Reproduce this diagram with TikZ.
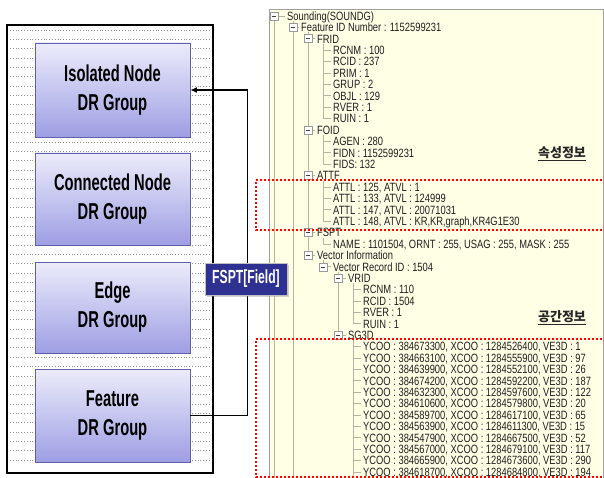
\documentclass[tikz,border=0pt]{standalone}
\usepackage{fontspec}
\setmainfont{Liberation Sans}
\newfontfamily\condf[FakeStretch=0.64]{Liberation Sans}
\newfontfamily\treef[FakeStretch=0.78]{Liberation Sans}
\newfontfamily\krf{Noto Sans CJK KR}
\usetikzlibrary{arrows.meta,shadows}
\definecolor{panelyellow}{HTML}{FFFFE6}
\definecolor{treeline}{HTML}{B4B4A0}
\definecolor{boxtop}{HTML}{ECECFB}
\definecolor{boxbot}{HTML}{9E9EE4}
\definecolor{boxedge}{HTML}{6060A8}
\definecolor{fsptblue}{HTML}{2E3192}
\definecolor{panelframe}{HTML}{A0A0A0}
\definecolor{dumpgray}{HTML}{8E8E8E}
\newcommand\ry[1]{16+11.4*#1}
\newcommand\trow[3]{\node[treetext] (t#1) at ({#2},{\ry{#1}}) {#3};}
\newcommand\xbox[2]{\node[expander] (x#1) at ({#2},{\ry{#1}}) {};}
\begin{document}
\begin{tikzpicture}[x=1pt,y=-1pt,
  treetext/.style={anchor=west,inner sep=0pt,text height=8.6pt,text depth=0pt,
    font=\treef\fontsize{12}{12}\selectfont,text=black!88},
  expander/.style={rectangle,minimum size=8pt,inner sep=0pt,draw=black!40,fill=white,line width=0.6pt,
    path picture={\draw[black!75,line width=0.6pt]
      ([xshift=1.8pt]path picture bounding box.west) -- ([xshift=-1.8pt]path picture bounding box.east);}},
  tline/.style={draw=treeline,line width=0.8pt},
  reddots/.style={draw=red,line width=1.8pt,dash pattern=on 1.8pt off 2.2pt},
  dumprow/.style={draw=dumpgray,line width=0.9pt,dash pattern=on 1pt off 1.8pt},
  drbox/.style={rectangle,draw=boxedge,line width=0.8pt,top color=boxtop,bottom color=boxbot,
    align=center,inner sep=0pt,minimum width=155pt,
    font=\condf\bfseries\fontsize{23}{29}\selectfont},
  fsptlabel/.style={rectangle,fill=fsptblue,draw=black!25,line width=1pt,minimum width=82pt,minimum height=32pt,
    inner sep=0pt,text=white,font=\condf\bfseries\fontsize{19}{19}\selectfont,
    drop shadow={shadow xshift=1.5pt,shadow yshift=-1.5pt,opacity=0.35}},
  krlabel/.style={inner sep=0pt,font=\krf\bfseries\fontsize{13}{13}\selectfont,text=black!85},
  arrowline/.style={draw=black,line width=1.8pt,-{Latex[length=6.5pt,width=6pt]}}
]
\useasboundingbox (0,0) rectangle (604,478);
\clip (0,0) rectangle (604,478);
\fill[white] (0,0) rectangle (604,478);

% ---------- right panel ----------
\filldraw[fill=panelyellow,draw=panelframe,line width=1pt] (269,10) rectangle (603,490);

% tree lines
\draw[tline] (274,{\ry{0}}) -- (274,490);
\draw[tline] (274,{\ry{0}}) -- (285,{\ry{0}});
\draw[tline] (293,{\ry{0}+5}) -- (293,490);
\draw[tline] (293,{\ry{1}}) -- (299,{\ry{1}});
\draw[tline] (308,{\ry{1}+5}) -- (308,{\ry{21}});
\foreach \k in {2,10,14,19,21} {\draw[tline] (308,{\ry{\k}}) -- (315,{\ry{\k}});}
\draw[tline] (323,{\ry{2}+5}) -- (323,{\ry{9}});
\draw[tline] (323,{\ry{10}+5}) -- (323,{\ry{13}});
\draw[tline] (323,{\ry{14}+5}) -- (323,{\ry{18}});
\draw[tline] (323,{\ry{19}+5}) -- (323,{\ry{20}});
\draw[tline] (323,{\ry{21}+5}) -- (323,{\ry{22}});
\foreach \k in {3,...,9,11,12,13,15,16,17,18,20,22} {\draw[tline] (323,{\ry{\k}}) -- (331,{\ry{\k}});}
\draw[tline] (338,{\ry{22}+5}) -- (338,{\ry{28}});
\foreach \k in {23,28} {\draw[tline] (338,{\ry{\k}}) -- (346,{\ry{\k}});}
\draw[tline] (353,{\ry{23}+5}) -- (353,{\ry{27}});
\draw[tline] (353,{\ry{28}+5}) -- (353,490);
\foreach \k in {24,...,27,29,30,...,40} {\draw[tline] (353,{\ry{\k}}) -- (361,{\ry{\k}});}

% expanders
\xbox{0}{274}
\xbox{1}{293}
\xbox{2}{308}
\xbox{10}{308}
\xbox{14}{308}
\xbox{19}{308}
\xbox{21}{308}
\xbox{22}{323}
\xbox{23}{338}
\xbox{28}{338}

% tree texts
\trow{0}{287}{Sounding(SOUNDG)}
\trow{1}{301}{Feature ID Number : 1152599231}
\trow{2}{317}{FRID}
\trow{3}{333}{RCNM : 100}
\trow{4}{333}{RCID : 237}
\trow{5}{333}{PRIM : 1}
\trow{6}{333}{GRUP : 2}
\trow{7}{333}{OBJL : 129}
\trow{8}{333}{RVER : 1}
\trow{9}{333}{RUIN : 1}
\trow{10}{317}{FOID}
\trow{11}{333}{AGEN : 280}
\trow{12}{333}{FIDN : 1152599231}
\trow{13}{333}{FIDS: 132}
\trow{14}{317}{ATTF}
\trow{15}{333}{ATTL : 125, ATVL : 1}
\trow{16}{333}{ATTL : 133, ATVL : 124999}
\trow{17}{333}{ATTL : 147, ATVL : 20071031}
\trow{18}{333}{ATTL : 148, ATVL : KR,KR,graph,KR4G1E30}
\trow{19}{317}{FSPT}
\trow{20}{333}{NAME : 1101504, ORNT : 255, USAG : 255, MASK : 255}
\trow{21}{317}{Vector Information}
\trow{22}{333}{Vector Record ID : 1504}
\trow{23}{348}{VRID}
\trow{24}{363}{RCNM : 110}
\trow{25}{363}{RCID : 1504}
\trow{26}{363}{RVER : 1}
\trow{27}{363}{RUIN : 1}
\trow{28}{348}{SG3D}
\trow{29}{363}{YCOO : 384673300, XCOO : 1284526400, VE3D : 1}
\trow{30}{363}{YCOO : 384663100, XCOO : 1284555900, VE3D : 97}
\trow{31}{363}{YCOO : 384639900, XCOO : 1284552100, VE3D : 26}
\trow{32}{363}{YCOO : 384674200, XCOO : 1284592200, VE3D : 187}
\trow{33}{363}{YCOO : 384632300, XCOO : 1284597600, VE3D : 122}
\trow{34}{363}{YCOO : 384610600, XCOO : 1284579800, VE3D : 20}
\trow{35}{363}{YCOO : 384589700, XCOO : 1284617100, VE3D : 65}
\trow{36}{363}{YCOO : 384563900, XCOO : 1284611300, VE3D : 15}
\trow{37}{363}{YCOO : 384547900, XCOO : 1284667500, VE3D : 52}
\trow{38}{363}{YCOO : 384567000, XCOO : 1284679100, VE3D : 117}
\trow{39}{363}{YCOO : 384665900, XCOO : 1284673600, VE3D : 290}
\trow{40}{363}{YCOO : 384618700, XCOO : 1284684800, VE3D : 194}

% korean labels
\node[krlabel] (attrinfo) at (562,154) {\underline{속성정보}};
\node[krlabel] (spaceinfo) at (562,318) {\underline{공간정보}};

% red dotted frames
\draw[reddots] (606,180) -- (256,180) -- (256,230) -- (606,230);
\draw[reddots] (606,339) -- (256,339) -- (256,477) -- (606,477);

% ---------- left panel ----------
\fill[white] (7,25) rectangle (213,473);
\foreach \r in {0,...,46} {\draw[dumprow] (10,{30+9.35*\r}) -- (210,{30+9.35*\r});}
\draw[black,line width=2.2pt] (7,25) rectangle (213,473);

\node[drbox,minimum height=94pt] (iso) at (112.5,90) {Isolated Node\\DR Group};
\node[drbox,minimum height=92pt] (con) at (112.5,199) {Connected Node\\DR Group};
\node[drbox,minimum height=91pt] (edge) at (112.5,307.5) {Edge\\DR Group};
\node[drbox,minimum height=93pt] (feat) at (112.5,415.5) {Feature\\DR Group};

% arrow
\draw[arrowline] (feat.east) -- ++(57,0) |- (iso.east);

% FSPT label
\node[fsptlabel] (fspt) at (246,279) {FSPT[Field]};
\end{tikzpicture}
\end{document}
